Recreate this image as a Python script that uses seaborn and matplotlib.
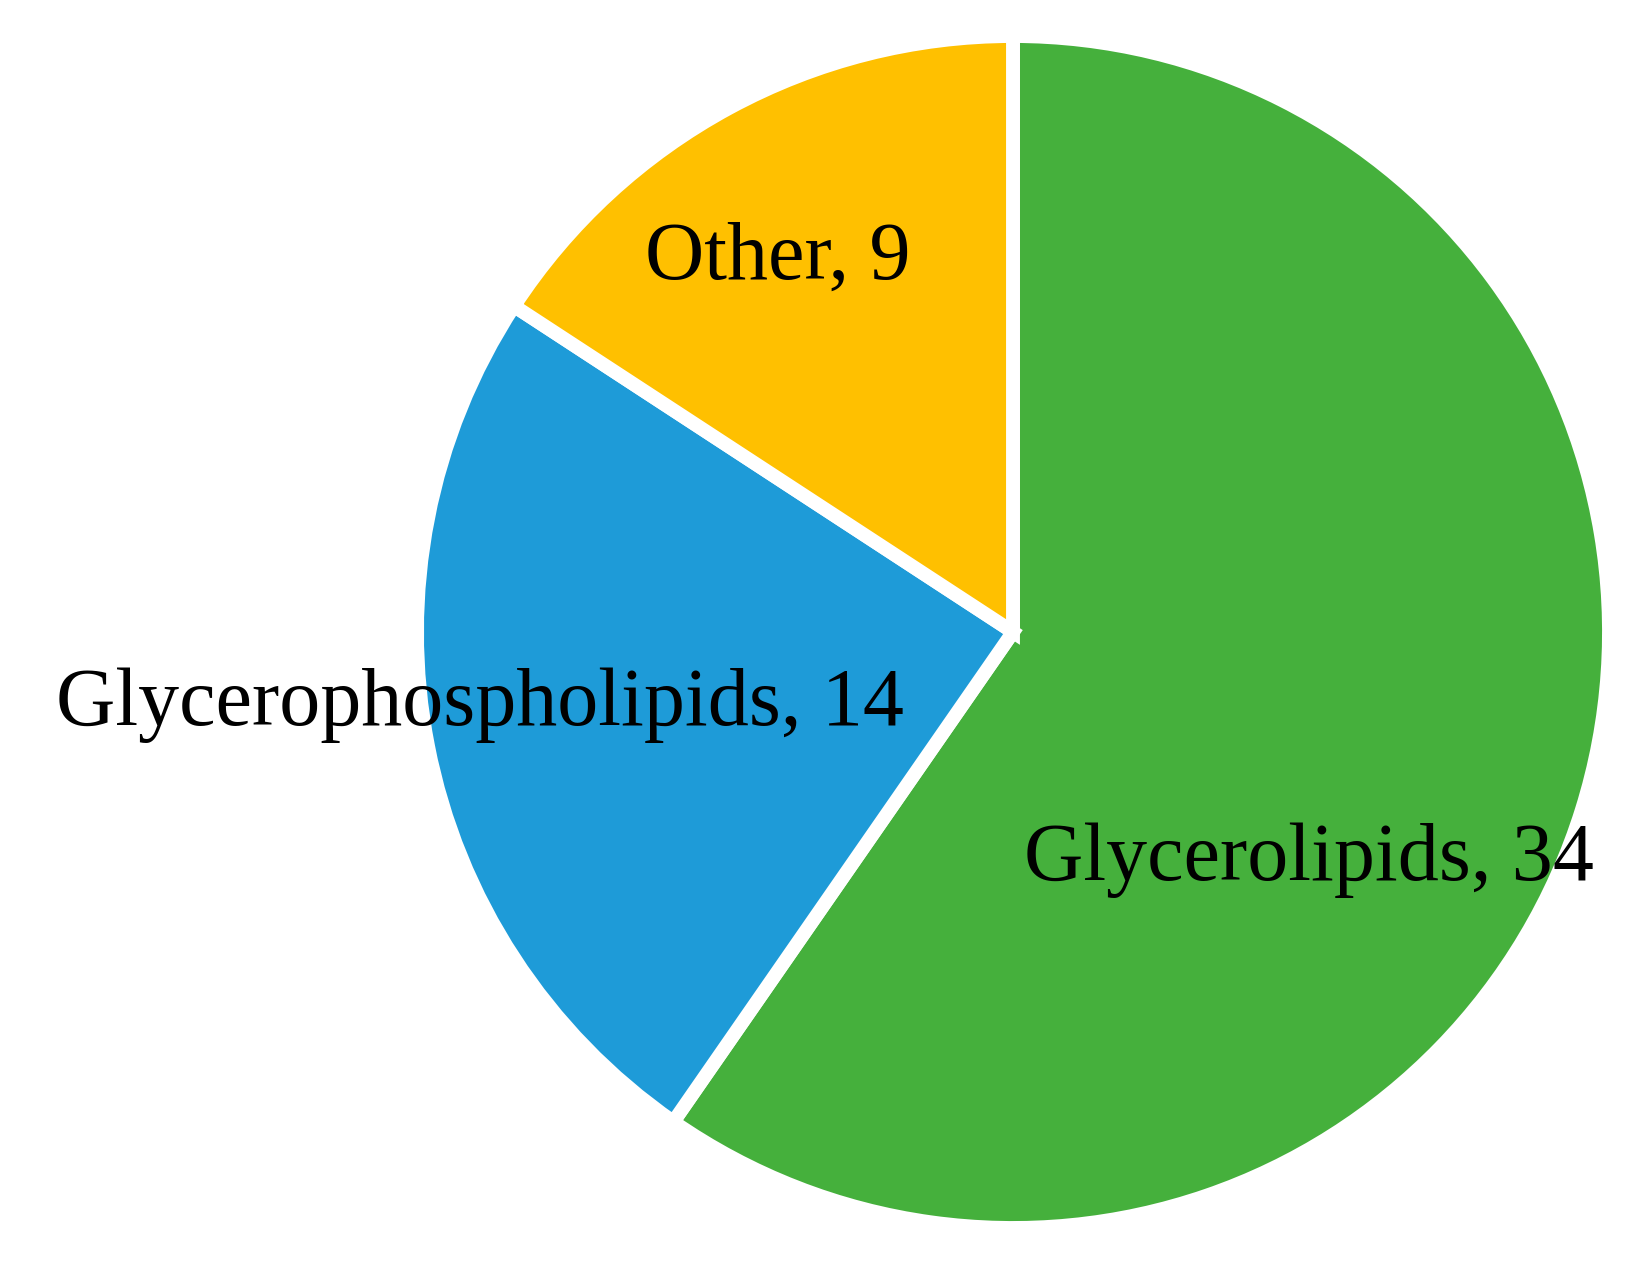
import matplotlib

matplotlib.use("Agg")
import matplotlib.pyplot as plt
import seaborn as sns

sns.set_theme(style="white")
plt.rcParams["font.family"] = ["Liberation Serif", "DejaVu Serif"]

# Lipid classes and counts
categories = ["Glycerolipids", "Glycerophospholipids", "Other"]
counts = [34, 14, 9]
slice_colors = ["#45B03C", "#1E9BD8", "#FFC000"]

# Label anchor (x, baseline y) in pie-radius units
label_pos = [(0.497, -0.416), (-0.895, -0.156), (-0.394, 0.592)]


def main():
    W, H, dpi = 1652, 1262, 100
    fig = plt.figure(figsize=(W / dpi, H / dpi), dpi=dpi)
    fig.patch.set_facecolor("white")

    # pie centre and radius in pixels
    cx, cy, r = 1013, 1262 - 632, 596
    pad = 1.05
    ax = fig.add_axes(
        [(cx - r * pad) / W, (cy - r * pad) / H, 2 * r * pad / W, 2 * r * pad / H]
    )

    wedges, texts = ax.pie(
        counts,
        labels=[f"{c}, {n}" for c, n in zip(categories, counts)],
        colors=slice_colors,
        startangle=90,
        counterclock=False,
        wedgeprops={"edgecolor": "white", "linewidth": 10},
        textprops={"fontsize": 59, "color": "black"},
    )
    for t, (x, y) in zip(texts, label_pos):
        t.set_position((x, y))
        t.set_ha("center")
        t.set_va("baseline")

    ax.set_xlim(-pad, pad)
    ax.set_ylim(-pad, pad)
    ax.set_aspect("equal")
    ax.axis("off")

    fig.savefig("out.png", dpi=dpi, facecolor="white")


if __name__ == "__main__":
    main()
